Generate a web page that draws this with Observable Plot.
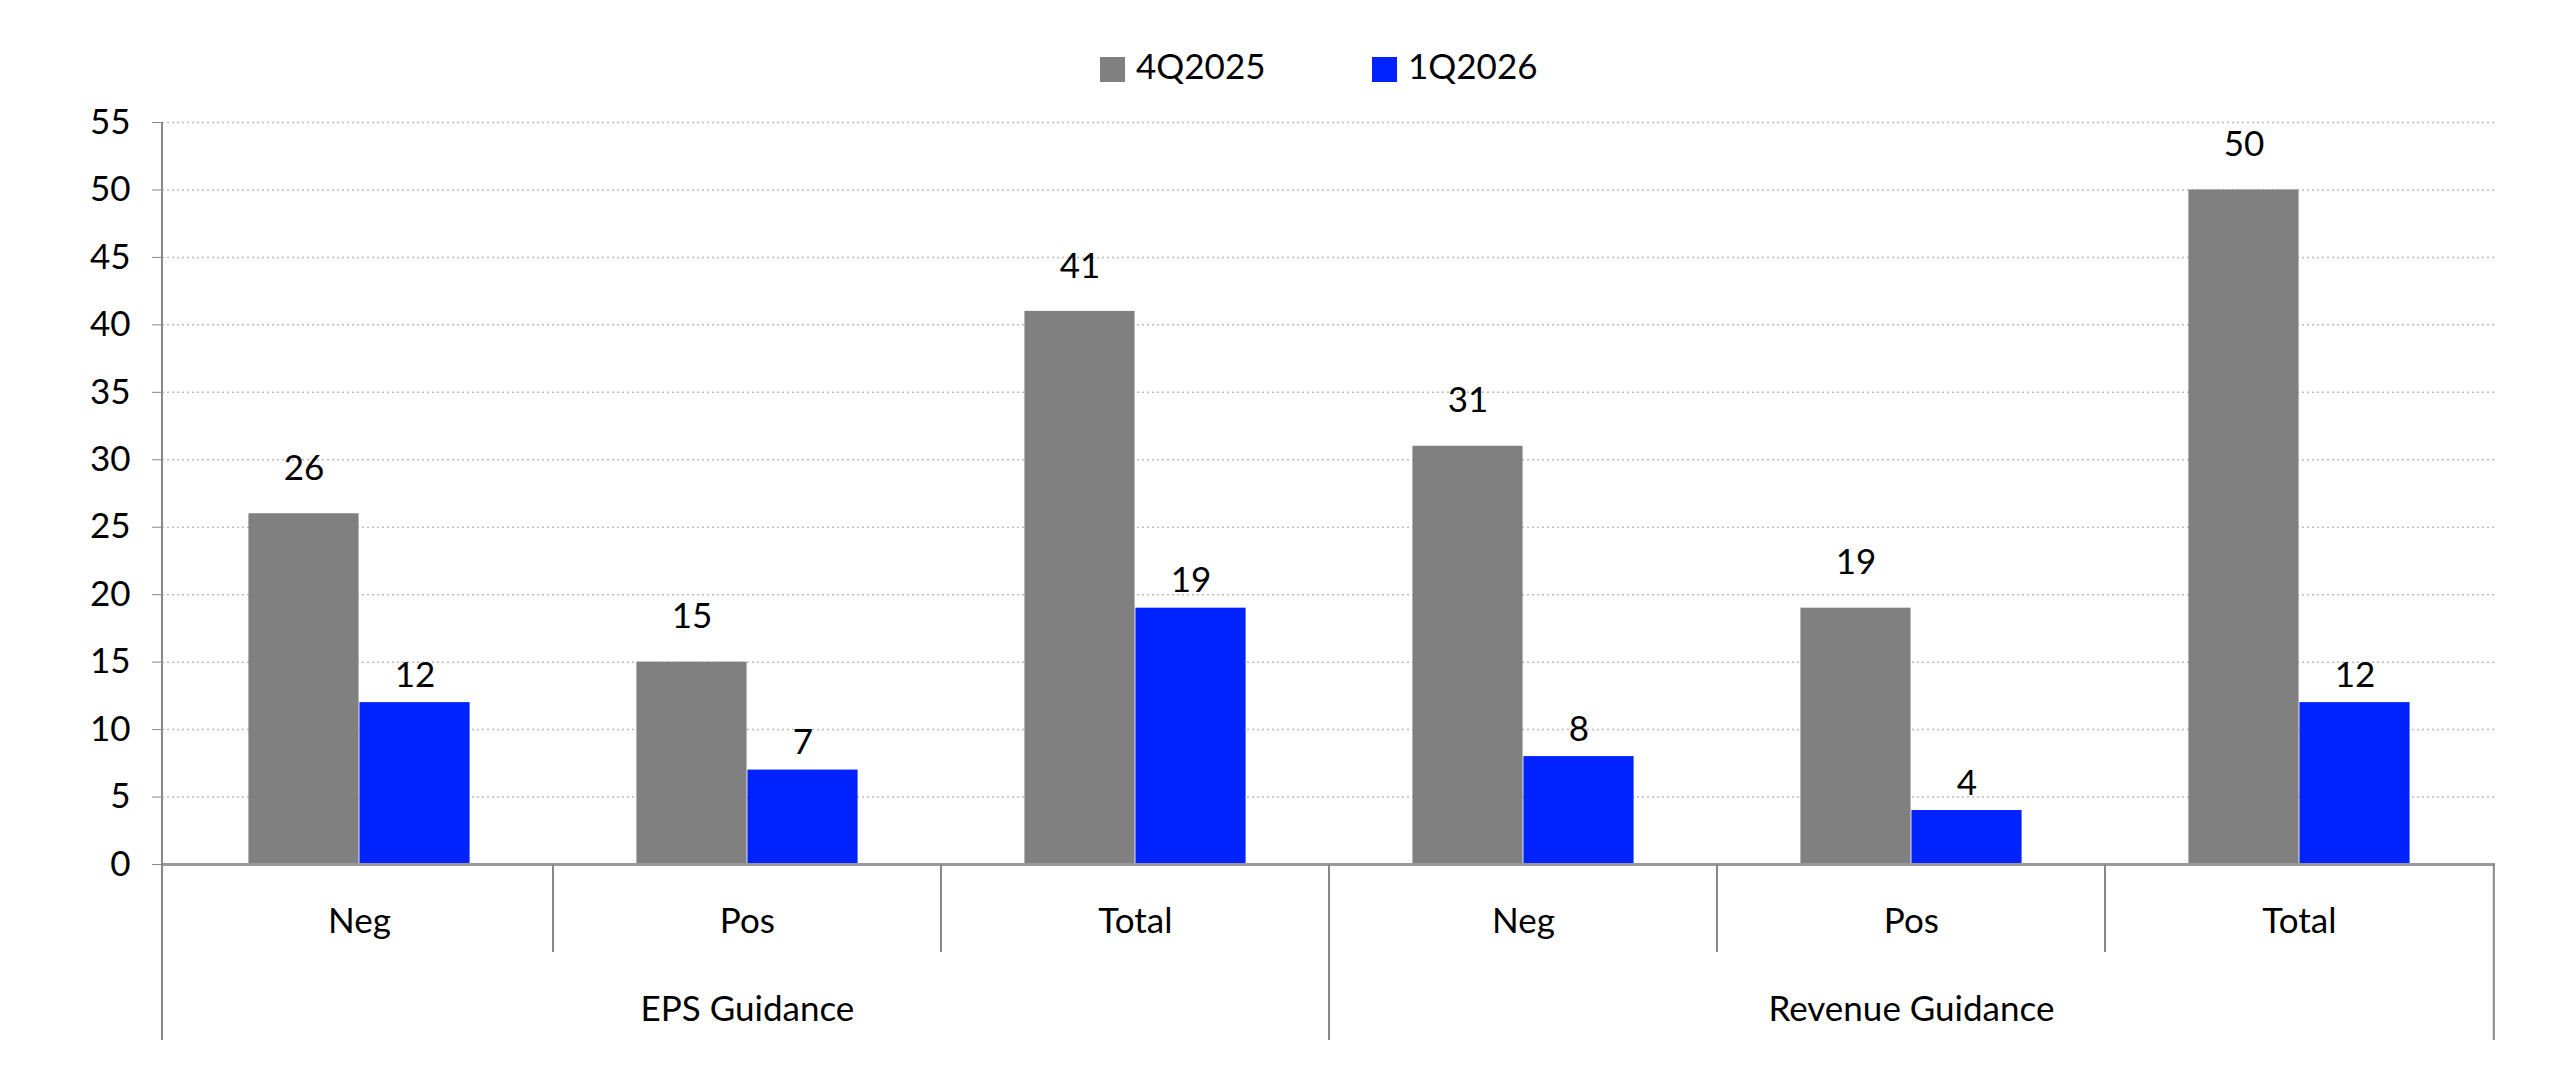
<!DOCTYPE html>
<html><head><meta charset="utf-8">
<script src="https://cdn.jsdelivr.net/npm/d3@7"></script>
<script src="https://cdn.jsdelivr.net/npm/@observablehq/plot@0.6"></script>
<style>body{margin:0;background:#fff}svg{font-family:Lato,"Open Sans",sans-serif}</style>
</head><body><div id="c"></div>
<script>
const groups = ["EPS Guidance","EPS Guidance","EPS Guidance","Revenue Guidance","Revenue Guidance","Revenue Guidance"];
const cats = ["Neg","Pos","Total","Neg","Pos","Total"];
const q4_2025 = [26,15,41,31,19,50];
const q1_2026 = [12,7,19,8,4,12];
const series = ["4Q2025","1Q2026"];
const colors = ["#808080","#0022FF"];
const yTicks = d3.range(0,56,5);

const keys = cats.map((c,i)=>i+"");
const data = [];
keys.forEach((k,i)=>{data.push({k,s:series[0],v:q4_2025[i]});data.push({k,s:series[1],v:q1_2026[i]});});

const W=2560,H=1080,ML=162,MR=65,MT=122,MB=216;
const bw=(W-ML-MR)/6, barW=111, gap=(bw-2*barW)/2;
const fs=35;
const plot = Plot.plot({
  width:W,height:H,marginLeft:ML,marginRight:MR,marginTop:MT,marginBottom:MB,
  style:{fontSize:fs+"px",fontFamily:"Lato, 'Open Sans', sans-serif",color:"#000"},
  x:{domain:keys,padding:0,axis:null},
  y:{domain:[0,55],ticks:yTicks,axis:null},
  marks:[
    Plot.gridY(yTicks.filter(t=>t>0),{stroke:"#bbb",strokeOpacity:1,strokeDasharray:"2,3",strokeWidth:1.5}),
    Plot.barY(data.filter(d=>d.s===series[0]),{x:"k",y:"v",fill:colors[0],insetLeft:gap,insetRight:gap+barW}),
    Plot.barY(data.filter(d=>d.s===series[1]),{x:"k",y:"v",fill:colors[1],insetLeft:gap+barW,insetRight:gap}),
    Plot.text(data.filter(d=>d.s===series[0]),{x:"k",y:"v",text:d=>d.v,dx:-barW/2,dy:-45,fill:"#000",fontSize:fs}),
    Plot.text(data.filter(d=>d.s===series[1]),{x:"k",y:"v",text:d=>d.v,dx:barW/2,dy:-27,fill:"#000",fontSize:fs}),
    Plot.axisY({ticks:yTicks,tickSize:10,tickPadding:22,stroke:"#888",fontSize:fs,anchor:"left",label:null}),
    Plot.ruleY([0],{stroke:"#999",strokeWidth:3}),
  ]
});
document.getElementById("c").appendChild(plot);
const svg=d3.select(plot);
const xs=plot.scale("x"), ys=plot.scale("y");
const y0=ys.apply(0);
const g=svg.append("g").attr("text-anchor","start");
g.append("line").attr("x1",ML).attr("x2",ML).attr("y1",MT).attr("y2",1040).attr("stroke","#888").attr("stroke-width",2);
keys.forEach((k,i)=>{
  const cx=xs.apply(k)+bw/2;
  g.append("text").attr("x",cx).attr("y",924).attr("text-anchor","middle").attr("dominant-baseline","middle").attr("font-size",fs).text(cats[i]);
  if(i>0){
    const long = groups[i]!==groups[i-1];
    const x=xs.apply(k);
    g.append("line").attr("x1",x).attr("x2",x).attr("y1",y0).attr("y2",long?1040:952).attr("stroke","#888").attr("stroke-width",2);
  }
});
const xe=xs.apply(keys[5])+bw;
g.append("line").attr("x1",xe).attr("x2",xe).attr("y1",y0).attr("y2",1040).attr("stroke","#888").attr("stroke-width",2);
[...new Set(groups)].forEach(gr=>{
  const idx=groups.map((v,i)=>v===gr?i:-1).filter(i=>i>=0);
  const a=xs.apply(keys[idx[0]]), b=xs.apply(keys[idx[idx.length-1]])+bw;
  g.append("text").attr("x",(a+b)/2).attr("y",1012).attr("text-anchor","middle").attr("dominant-baseline","middle").attr("font-size",fs).text(gr);
});
const lx=[1100,1372];
series.forEach((s,i)=>{
  g.append("rect").attr("x",lx[i]).attr("y",57).attr("width",25).attr("height",25).attr("fill",colors[i]);
  g.append("text").attr("x",lx[i]+36).attr("y",70).attr("text-anchor","start").attr("dominant-baseline","middle").attr("font-size",fs).text(s);
});
</script></body></html>
